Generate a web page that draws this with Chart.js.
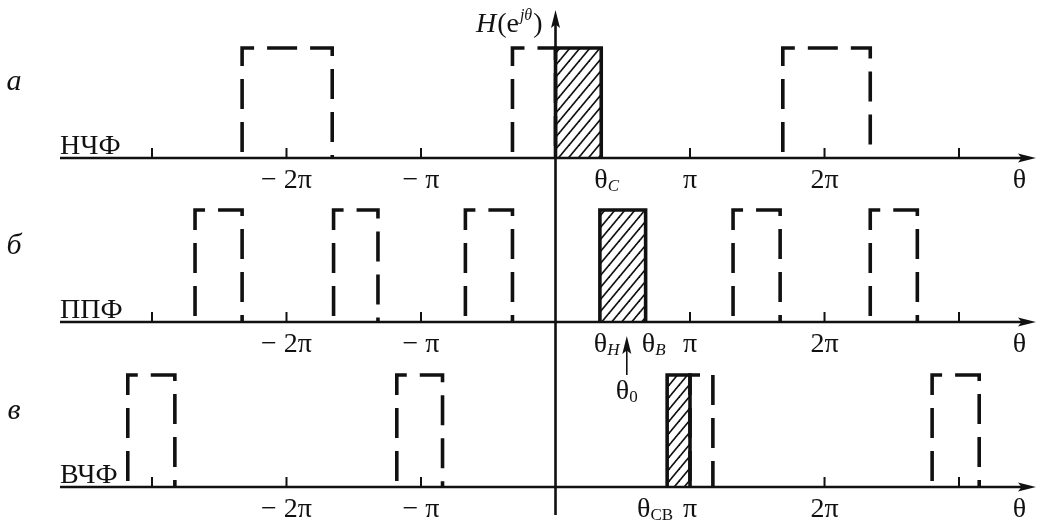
<!DOCTYPE html>
<html>
<head>
<meta charset="utf-8">
<script src="https://cdn.jsdelivr.net/npm/chart.js@4/dist/chart.umd.min.js"></script>
<style>
  html, body { margin: 0; padding: 0; background: #fff; }
  #wrap { width: 1040px; height: 527px; }
</style>
</head>
<body>
<div id="wrap"><canvas id="filtersChart" width="1040" height="527"></canvas></div>
<script>
// θ is given in units of π everywhere below

// ticks on every θ axis
const PI_TICKS = [-3, -2, -1, 1, 2, 3];
const LEVEL = 1;

// а) НЧФ
const LPF_PASS = [0, 0.34];
const LPF_IMAGES = [[-2.33, -1.66], [-0.32, 0], [1.69, 2.34]];
const LPF_TICK_LABELS = [
    { at: -2, text: '− 2π' },
    { at: -1, text: '− π' },
    { at: 0.38, text: 'θ', sub: 'C', subItalic: true },
    { at: 1, text: 'π' },
    { at: 2, text: '2π' },
    { at: 3.45, text: 'θ' }
];

// б) ППФ
const BPF_PASS = [0.33, 0.67];
const BPF_IMAGES = [[-2.68, -2.33], [-1.65, -1.32], [-0.67, -0.32], [1.32, 1.67], [2.34, 2.69]];
const BPF_CENTER = 0.53;
const BPF_TICK_LABELS = [
    { at: -2, text: '− 2π' },
    { at: -1, text: '− π' },
    { at: 0.38, text: 'θ', sub: 'H', subItalic: true },
    { at: 0.73, text: 'θ', sub: 'B', subItalic: true },
    { at: 1, text: 'π' },
    { at: 2, text: '2π' },
    { at: 3.45, text: 'θ' }
];

// в) ВЧФ
const HPF_PASS = [0.83, 1.0];
const HPF_IMAGES = [[-3.18, -2.83], [-1.18, -0.84], [1.0, 1.17], [2.80, 3.15]];
const HPF_TICK_LABELS = [
    { at: -2, text: '− 2π' },
    { at: -1, text: '− π' },
    { at: 0.74, text: 'θ', sub: 'CB' },
    { at: 1.0, text: 'π' },
    { at: 2, text: '2π' },
    { at: 3.45, text: 'θ' }
];

const INK = '#111';
const SERIF = '"Liberation Serif", "DejaVu Serif", serif';
const AXIS_FROM = -3.684;
const AXIS_TO = 3.572;

const PANELS = [
    { axis: 'yA', letter: 'а', name: 'НЧФ', pass: LPF_PASS, images: LPF_IMAGES, labels: LPF_TICK_LABELS },
    { axis: 'yB', letter: 'б', name: 'ППФ', pass: BPF_PASS, images: BPF_IMAGES, labels: BPF_TICK_LABELS },
    { axis: 'yC', letter: 'в', name: 'ВЧФ', pass: HPF_PASS, images: HPF_IMAGES, labels: HPF_TICK_LABELS }
];

const canvas = document.getElementById('filtersChart');
const ctx = canvas.getContext('2d');

// diagonal hatching for the main passband
const makeHatch = () => {
    const tile = document.createElement('canvas');
    tile.width = 10;
    tile.height = 12;
    const t = tile.getContext('2d');
    t.strokeStyle = INK;
    t.lineWidth = 1.7;
    [-10, 0, 10].forEach(dx => {
        t.beginPath();
        t.moveTo(dx - 1, 13.2);
        t.lineTo(dx + 11, -1.2);
        t.stroke();
    });
    return ctx.createPattern(tile, 'repeat');
};

const boxPath = ([a, b]) => [
    { x: a, y: 0 }, { x: a, y: LEVEL }, { x: b, y: LEVEL }, { x: b, y: 0 }
];

const datasets = [];
PANELS.forEach(p => {
    p.images.forEach(band => datasets.push({
        data: boxPath(band),
        yAxisID: p.axis,
        borderColor: INK,
        borderWidth: 3.6,
        borderDash: [30, 13],
        borderDashOffset: 37,   // puts a dash across the upper left corner
        borderCapStyle: 'butt',
        borderJoinStyle: 'miter',
        pointRadius: 0,
        fill: false,
        tension: 0
    }));
    datasets.push({
        data: boxPath(p.pass),
        yAxisID: p.axis,
        borderColor: INK,
        borderWidth: 3.6,
        borderJoinStyle: 'miter',
        backgroundColor: makeHatch(),
        pointRadius: 0,
        fill: 'origin',
        tension: 0
    });
});

const arrowHead = (c, x, y, dx, dy) => {
    const len = 18, half = 4.5;
    const px = -dy, py = dx;
    c.beginPath();
    c.moveTo(x, y);
    c.lineTo(x - dx * len + px * half, y - dy * len + py * half);
    c.lineTo(x - dx * len * 0.8, y - dy * len * 0.8);
    c.lineTo(x - dx * len - px * half, y - dy * len - py * half);
    c.closePath();
    c.fill();
};

const drawLabel = (c, cx, cy, lab) => {
    const mainFont = '28px ' + SERIF;
    const subFont = (lab.subItalic ? 'italic ' : '') + '17px ' + SERIF;
    c.font = mainFont;
    const w1 = c.measureText(lab.text).width;
    let w2 = 0;
    if (lab.sub) {
        c.font = subFont;
        w2 = c.measureText(lab.sub).width;
    }
    const left = cx - (w1 + w2) / 2;
    c.textAlign = 'left';
    c.textBaseline = 'middle';
    c.font = mainFont;
    c.fillText(lab.text, left, cy);
    if (lab.sub) {
        c.font = subFont;
        c.fillText(lab.sub, left + w1, cy + 6);
    }
};

const filterAxesPlugin = {
    id: 'filterAxes',
    beforeDatasetsDraw(chart) {
        const c = chart.ctx;
        const xs = chart.scales.x;
        c.save();
        c.strokeStyle = INK;
        c.fillStyle = INK;
        PANELS.forEach(p => {
            const y0 = chart.scales[p.axis].getPixelForValue(0);
            const xa = xs.getPixelForValue(AXIS_FROM);
            const xb = xs.getPixelForValue(AXIS_TO);
            c.lineWidth = 2.6;
            c.beginPath();
            c.moveTo(xa, y0);
            c.lineTo(xb - 10, y0);
            c.stroke();
            arrowHead(c, xb, y0, 1, 0);
            c.lineWidth = 2;
            PI_TICKS.forEach(t => {
                const x = xs.getPixelForValue(t);
                c.beginPath();
                c.moveTo(x, y0);
                c.lineTo(x, y0 - 10);
                c.stroke();
            });
        });
        // vertical H axis through all three panels
        const x0 = xs.getPixelForValue(0);
        const top = chart.scales.yA.getPixelForValue(1.345);
        const bottom = chart.scales.yC.getPixelForValue(-0.25);
        c.lineWidth = 2.6;
        c.beginPath();
        c.moveTo(x0, bottom);
        c.lineTo(x0, top + 10);
        c.stroke();
        arrowHead(c, x0, top, 0, -1);
        c.restore();
    },
    afterDatasetsDraw(chart) {
        const c = chart.ctx;
        const xs = chart.scales.x;
        c.save();
        c.fillStyle = INK;
        c.strokeStyle = INK;
        PANELS.forEach(p => {
            const y0 = chart.scales[p.axis].getPixelForValue(0);
            p.labels.forEach(lab => drawLabel(c, xs.getPixelForValue(lab.at), y0 + 23, lab));
            c.textAlign = 'left';
            c.textBaseline = 'alphabetic';
            c.font = '28px ' + SERIF;
            c.fillText(p.name, xs.getPixelForValue(AXIS_FROM), y0 - 4);
            c.textAlign = 'center';
            c.textBaseline = 'middle';
            c.font = 'italic 30px ' + SERIF;
            c.fillText(p.letter, 14, y0 - 76);
        });
        // θ0 pointer in the band-pass panel
        const yb = chart.scales.yB.getPixelForValue(0);
        const xc = xs.getPixelForValue(BPF_CENTER);
        c.lineWidth = 1.6;
        c.beginPath();
        c.moveTo(xc, yb + 53);
        c.lineTo(xc, yb + 26);
        c.stroke();
        arrowHead(c, xc, yb + 14, 0, -1);
        drawLabel(c, xc, yb + 70, { text: 'θ', sub: '0' });

        // H(e^jθ) caption
        const x0 = xs.getPixelForValue(0);
        const base = 32;
        c.textBaseline = 'alphabetic';
        c.textAlign = 'left';
        const parts = [
            ['italic 28px ' + SERIF, 'H', 0],
            ['28px ' + SERIF, '(e', 0],
            ['italic 16px ' + SERIF, 'jθ', -12],
            ['28px ' + SERIF, ')', 0]
        ];
        let total = 0;
        parts.forEach(([f, s]) => { c.font = f; total += c.measureText(s).width + 1; });
        let x = x0 - 12 - total;
        parts.forEach(([f, s, dy]) => {
            c.font = f;
            c.fillText(s, x, base + dy);
            x += c.measureText(s).width + 1;
        });
        c.restore();
    }
};

const hiddenY = (min, max, weight) => ({
    type: 'linear', display: false, stack: 'panels', stackWeight: 1, weight, min, max
});

new Chart(ctx, {
    type: 'line',
    data: { datasets },
    options: {
        responsive: false,
        animation: false,
        devicePixelRatio: 1,
        layout: { padding: 0 },
        scales: {
            x: { type: 'linear', display: false, min: -4.13, max: 3.602 },
            yA: hiddenY(-0.1606, 1.4364, 3),
            yB: hiddenY(-0.262, 1.3065, 2),
            yC: hiddenY(-0.357, 1.2113, 1)
        },
        plugins: {
            legend: { display: false },
            tooltip: { enabled: false }
        }
    },
    plugins: [filterAxesPlugin]
});
</script>
</body>
</html>
